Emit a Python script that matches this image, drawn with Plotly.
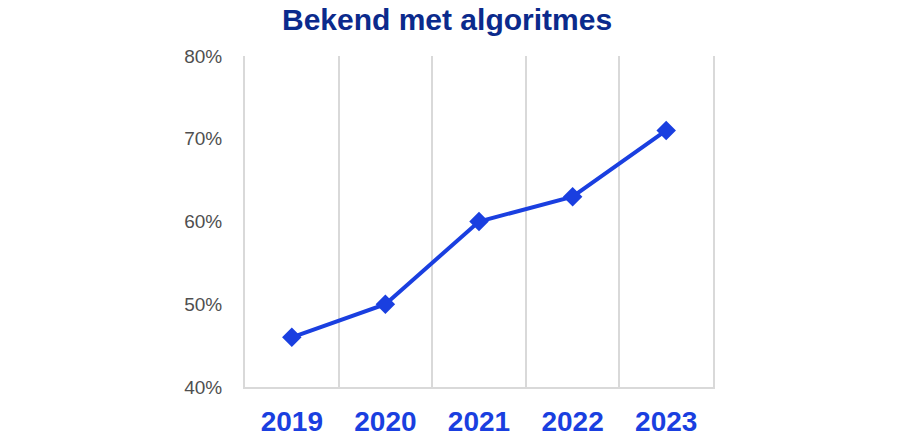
import plotly.graph_objects as go

years = ["2019", "2020", "2021", "2022", "2023"]
values = [46, 50, 60, 63, 71]
y_ticks = [40, 50, 60, 70, 80]
y_tick_labels = ["40%", "50%", "60%", "70%", "80%"]

xpos = list(range(len(years)))
blue = "#1a3fe0"
grid = "#d9d9d9"

fig = go.Figure()
fig.add_trace(go.Scatter(
    x=xpos, y=values, mode="lines+markers",
    line=dict(color=blue, width=4),
    marker=dict(symbol="diamond", size=15, color=blue),
    hoverinfo="skip",
))

fig.update_layout(
    width=900, height=440,
    margin=dict(l=245, r=187, t=56, b=53, autoexpand=False),
    paper_bgcolor="white", plot_bgcolor="white",
    showlegend=False,
    title=dict(text="<b>Bekend met algoritmes</b>", x=0.4967, xanchor="center",
               y=0.955, yanchor="middle", automargin=False,
               font=dict(family="Liberation Sans, Arial", size=30, color="#0b2a8c")),
    xaxis=dict(
        range=[-0.5, len(years) - 0.5],
        tickvals=xpos, ticktext=years,
        showgrid=False, zeroline=False,
        showline=True, linecolor=grid, linewidth=2,
        ticks="", ticklabelstandoff=8, automargin=False,
        tickfont=dict(family="Liberation Sans, Arial", size=28,
                      color=blue, weight="bold"),
        minor=dict(tickvals=[i - 0.5 for i in range(1, len(years))],
                   showgrid=True, gridcolor=grid, gridwidth=2, ticks=""),
        fixedrange=True,
    ),
    yaxis=dict(
        range=[40, 80], tickvals=y_ticks, ticktext=y_tick_labels,
        showgrid=False, zeroline=False, showline=True, mirror=True,
        linecolor=grid, linewidth=2, ticks="",
        ticklabelstandoff=17, automargin=False,
        tickfont=dict(family="Liberation Sans, Arial", size=19, color="#4f4f4f"),
        fixedrange=True,
    ),
)

fig.write_html("out.html", config={"displayModeBar": False, "staticPlot": True},
               post_script="document.body.style.margin='0';")
